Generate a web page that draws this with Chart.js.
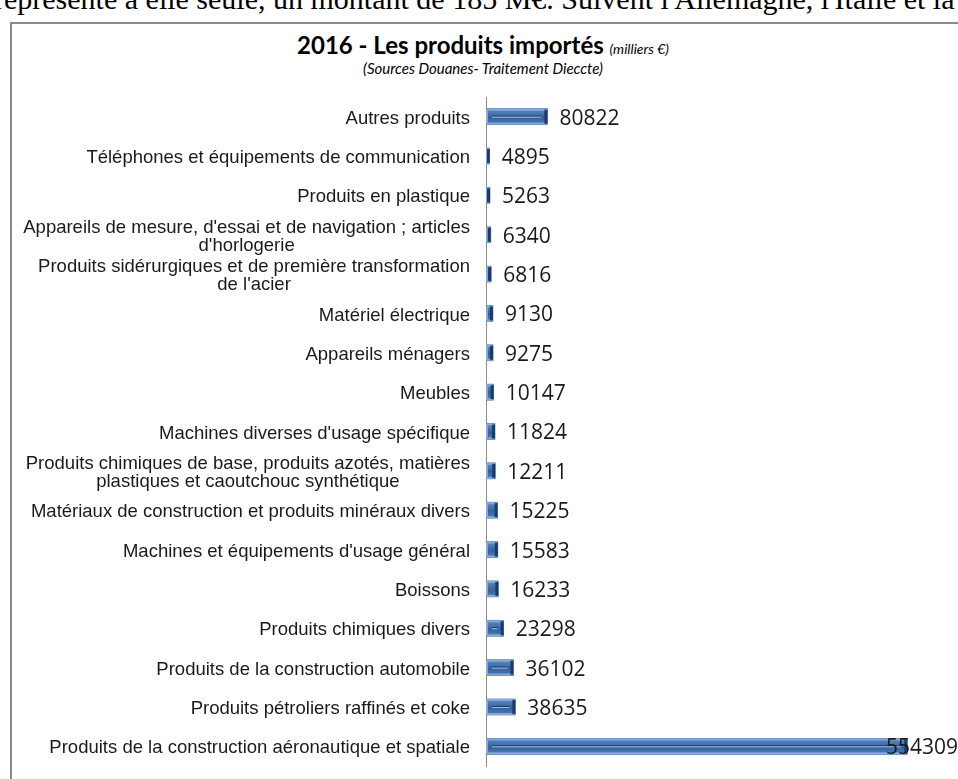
<!DOCTYPE html>
<html>
<head>
<meta charset="utf-8">
<script src="https://cdn.jsdelivr.net/npm/chart.js@4"></script>
<style>
  body { margin: 0; background: #fff; width: 958px; height: 779px; overflow: hidden; position: relative; }
  #intro { position: absolute; left: -6px; top: -18px; white-space: nowrap;
           font-family: "Liberation Serif", serif; font-size: 30px; color: #000; }
  #box { position: absolute; left: 10px; top: 22px; width: 1000px; height: 800px;
         border: 2px solid #8a8a8a; box-sizing: border-box; }
  #title { position: absolute; left: 0; width: 966px; top: 30px; text-align: center;
           font-family: Lato, sans-serif; font-weight: 700; font-size: 24px; color: #000; }
  #title i { font-weight: 400; font-size: 14px; }
  #sub { position: absolute; left: 0; width: 966px; top: 59px; text-align: center;
         font-family: Lato, sans-serif; font-style: italic; font-size: 15px; color: #000; }
  #wrap { position: absolute; left: 0; top: 0; width: 958px; height: 779px; }
</style>
</head>
<body>
<div id="intro">représente à elle seule, un montant de 185 M€. Suivent l'Allemagne, l'Italie et la France</div>
<div id="box"></div>
<div id="title">2016 - Les produits importés <i>(milliers €)</i></div>
<div id="sub">(Sources Douanes- Traitement Dieccte)</div>
<div id="wrap"><canvas id="chart-bar"></canvas></div>
<script>
// categories, top to bottom (each entry = lines of the label)
let categories = [
  ["Autres produits"],
  ["Téléphones et équipements de communication"],
  ["Produits en plastique"],
  ["Appareils de mesure, d'essai et de navigation ; articles", "d'horlogerie"],
  ["Produits sidérurgiques et de première transformation", "de l'acier"],
  ["Matériel électrique"],
  ["Appareils ménagers"],
  ["Meubles"],
  ["Machines diverses d'usage spécifique"],
  ["Produits chimiques de base, produits azotés, matières", "plastiques et caoutchouc synthétique"],
  ["Matériaux de construction et produits minéraux divers"],
  ["Machines et équipements d'usage général"],
  ["Boissons"],
  ["Produits chimiques divers"],
  ["Produits de la construction automobile"],
  ["Produits pétroliers raffinés et coke"],
  ["Produits de la construction aéronautique et spatiale"]
];
let imports = [80822, 4895, 5263, 6340, 6816, 9130, 9275, 10147, 11824, 12211,
               15225, 15583, 16233, 23298, 36102, 38635, 554309];
let axisMax = 600000;

// category labels: block right aligned, lines centered inside the block
const labelPlugin = {
  id: "labels",
  afterDraw(chart) {
    const ctx = chart.ctx;
    const yScale = chart.scales.y;
    ctx.save();
    ctx.font = "18.5px 'Liberation Sans', Arial, sans-serif";
    ctx.fillStyle = "#1a1a1a";
    ctx.textAlign = "center";
    ctx.textBaseline = "middle";
    const right = yScale.right - 16;
    categories.forEach((lines, i) => {
      const yc = yScale.getPixelForValue(i) + 2;
      const w = Math.max(...lines.map((l) => ctx.measureText(l).width));
      const lh = 17.5;
      lines.forEach((l, k) => {
        ctx.fillText(l, right - w / 2, yc + (k - (lines.length - 1) / 2) * lh);
      });
    });
    ctx.restore();
  }
};

// bevel look + value labels
const barPlugin = {
  id: "bevel",
  afterDatasetsDraw(chart) {
    const ctx = chart.ctx;
    const meta = chart.getDatasetMeta(0);
    ctx.save();
    meta.data.forEach((bar, i) => {
      const p = bar.getProps(["x", "y", "base", "height"], true);
      const l = p.base, r = p.x, t = p.y - p.height / 2, h = p.height, w = r - l;
      ctx.fillStyle = "#86a9d6";
      ctx.fillRect(l, t, w, h);
      const g = ctx.createLinearGradient(0, t, 0, t + h);
      g.addColorStop(0, "#5f8dc8");
      g.addColorStop(0.45, "#3c6aa6");
      g.addColorStop(0.55, "#34609a");
      g.addColorStop(1, "#4f7fbc");
      ctx.fillStyle = g;
      ctx.fillRect(l + 2, t + 2, Math.max(w - 4, 1), h - 4);
      ctx.fillStyle = "#1d3a66";
      ctx.fillRect(Math.max(r - 3, l + 1), t + 1, Math.min(3, w - 1), h - 2);
      if (w > 12) {
        ctx.fillStyle = "#1b365f";
        ctx.fillRect(l + 6, p.y - 1, w - 12, 1);
        ctx.fillStyle = "#a2bfe4";
        ctx.fillRect(l + 6, p.y, w - 12, 1);
      }
      ctx.font = "21px 'Open Sans', sans-serif";
      ctx.fillStyle = "#1a1a1a";
      ctx.textBaseline = "middle";
      const txt = String(imports[i]);
      const tw = ctx.measureText(txt).width;
      ctx.fillText(txt, Math.min(r + 12, chart.width - tw), p.y + 2);
    });
    ctx.restore();
  }
};

new Chart(document.getElementById("chart-bar"), {
  type: "bar",
  data: {
    labels: categories.map((c) => c.join(" ")),
    datasets: [{
      data: imports,
      backgroundColor: "#3f6fae",
      borderWidth: 0,
      barThickness: 16
    }]
  },
  options: {
    indexAxis: "y",
    responsive: true,
    maintainAspectRatio: false,
    animation: false,
    layout: { padding: { top: 97, bottom: 13, left: 0, right: 16 } },
    plugins: { legend: { display: false }, tooltip: { enabled: false } },
    scales: {
      x: { display: false, min: 0, max: axisMax },
      y: {
        afterFit: (scale) => { scale.width = 486; },
        grid: { display: true, drawOnChartArea: false, drawTicks: false },
        border: { display: true, color: "#8c8c8c", width: 1 },
        ticks: { display: false }
      }
    }
  },
  plugins: [labelPlugin, barPlugin]
});
</script>
</body>
</html>
